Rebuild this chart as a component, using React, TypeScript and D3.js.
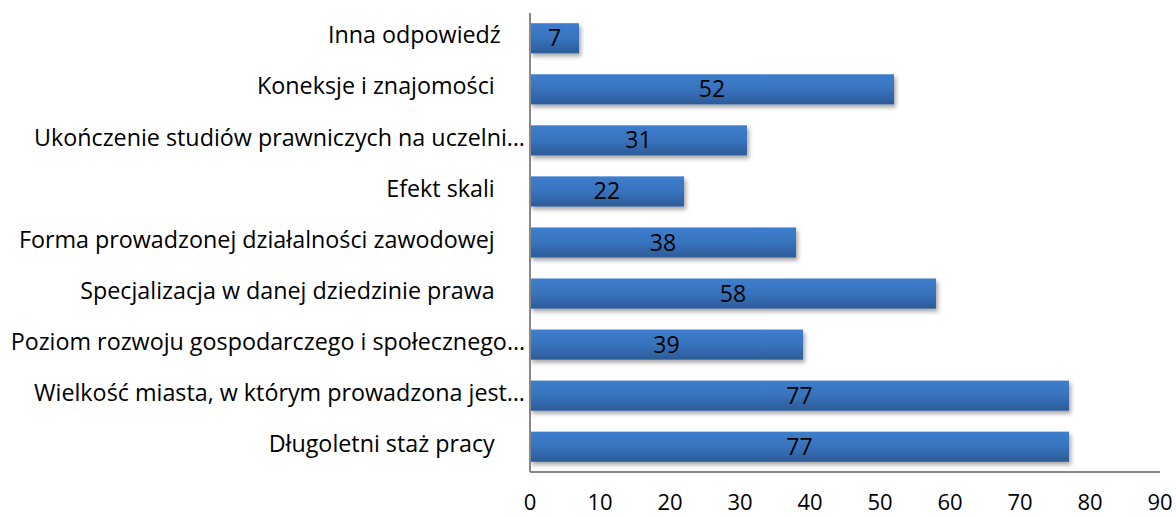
import React from 'react'
import * as d3 from 'd3'

const categories = [
  'Inna odpowiedź    ',
  'Koneksje i znajomości     ',
  'Ukończenie studiów prawniczych na uczelni…',
  'Efekt skali     ',
  'Forma prowadzonej działalności zawodowej     ',
  'Specjalizacja w danej dziedzinie prawa     ',
  'Poziom rozwoju gospodarczego i społecznego…',
  'Wielkość miasta, w którym prowadzona jest…',
  'Długoletni staż pracy     ',
]
const values = [7, 52, 31, 22, 38, 58, 39, 77, 77]
const ticks = [0, 10, 20, 30, 40, 50, 60, 70, 80, 90]

const W = 1176
const H = 517
const FONT = '"Open Sans", sans-serif'

function App() {
  const x = d3.scaleLinear().domain([0, 90]).range([530, 1160])
  const y = d3.scaleBand<string>().domain(categories).range([13, 472]).paddingInner(0.41).paddingOuter(0.2)
  const data = categories.map((c, i) => ({ cat: c, value: values[i] }))

  return (
    <svg width={W} height={H} style={{ position: 'absolute', left: 0, top: 0, background: '#fff' }}>
      <defs>
        <linearGradient id="barGrad" x1="0" y1="0" x2="0" y2="1">
          <stop offset="0%" stopColor="#3d7ecd" />
          <stop offset="50%" stopColor="#3873bd" />
          <stop offset="100%" stopColor="#2c5b98" />
        </linearGradient>
        <filter id="shadow" x="-5%" y="-20%" width="115%" height="160%">
          <feDropShadow dx="2" dy="3" stdDeviation="2" floodColor="#000" floodOpacity="0.35" />
        </filter>
      </defs>
      {data.map(d => (
        <g key={d.cat}>
          <rect
            x={x(0)}
            y={y(d.cat)}
            width={x(d.value) - x(0)}
            height={y.bandwidth()}
            fill="url(#barGrad)"
            filter="url(#shadow)"
          />
          <text
            x={(x(0) + x(d.value)) / 2}
            y={(y(d.cat) as number) + y.bandwidth() / 2}
            dy="0.35em"
            textAnchor="middle"
            fontFamily={FONT}
            fontSize={23}
            fill="#000"
          >
            {d.value}
          </text>
          <text
            x={525}
            y={(y(d.cat) as number) + y.bandwidth() / 2 - 3}
            dy="0.35em"
            textAnchor="end"
            fontFamily={FONT}
            fontSize={23.3}
            fill="#000"
            style={{ whiteSpace: 'pre' }}
          >
            {d.cat}
          </text>
        </g>
      ))}
      <line x1={x(0)} x2={x(0)} y1={13} y2={472} stroke="#888" strokeWidth={2} />
      <line x1={x(0)} x2={x(90)} y1={472} y2={472} stroke="#888" strokeWidth={2} />
      {ticks.map(t => (
        <text key={t} x={x(t)} y={502} dy="0.35em" textAnchor="middle" fontFamily={FONT} fontSize={22} fill="#000">
          {t}
        </text>
      ))}
    </svg>
  )
}

export default App
